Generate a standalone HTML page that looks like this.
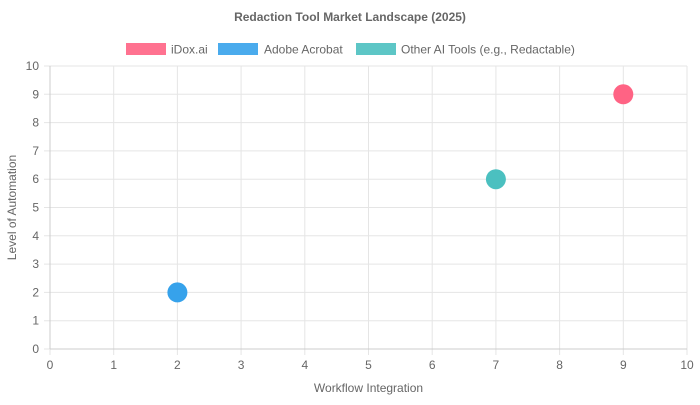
<!DOCTYPE html>
<html><head><style>body{margin:0;background:#fff}</style></head><body>
<svg width="700" height="400" xmlns="http://www.w3.org/2000/svg" font-family="Liberation Sans, Arial, sans-serif">
<text x="350" y="21" text-anchor="middle" font-size="12" font-weight="bold" fill="#666">Redaction Tool Market Landscape (2025)</text>
<rect x="126" y="43" width="40" height="12" fill="#FF6384" fill-opacity="0.9"/>
<text x="171" y="53.5" font-size="12" fill="#666">iDox.ai</text>
<rect x="218" y="43" width="40" height="12" fill="#36A2EB" fill-opacity="0.9"/>
<text x="264" y="53.5" font-size="12" fill="#666">Adobe Acrobat</text>
<rect x="356" y="43" width="40" height="12" fill="#4BC0C0" fill-opacity="0.9"/>
<text x="401" y="53.5" font-size="12" fill="#666">Other AI Tools (e.g., Redactable)</text>
<g stroke="#e5e5e5" stroke-width="1">
<line x1="50" y1="66" x2="50" y2="355"/><line x1="113.7" y1="66" x2="113.7" y2="355"/><line x1="177.4" y1="66" x2="177.4" y2="355"/><line x1="241.1" y1="66" x2="241.1" y2="355"/><line x1="304.8" y1="66" x2="304.8" y2="355"/><line x1="368.5" y1="66" x2="368.5" y2="355"/><line x1="432.2" y1="66" x2="432.2" y2="355"/><line x1="495.9" y1="66" x2="495.9" y2="355"/><line x1="559.6" y1="66" x2="559.6" y2="355"/><line x1="623.3" y1="66" x2="623.3" y2="355"/><line x1="687" y1="66" x2="687" y2="355"/>
<line x1="44" y1="66" x2="687" y2="66"/><line x1="44" y1="94.3" x2="687" y2="94.3"/><line x1="44" y1="122.6" x2="687" y2="122.6"/><line x1="44" y1="150.9" x2="687" y2="150.9"/><line x1="44" y1="179.2" x2="687" y2="179.2"/><line x1="44" y1="207.5" x2="687" y2="207.5"/><line x1="44" y1="235.8" x2="687" y2="235.8"/><line x1="44" y1="264.1" x2="687" y2="264.1"/><line x1="44" y1="292.4" x2="687" y2="292.4"/><line x1="44" y1="320.7" x2="687" y2="320.7"/><line x1="44" y1="349" x2="687" y2="349"/>
</g>
<line x1="50" y1="66" x2="50" y2="349" stroke="#ccc"/><line x1="50" y1="349" x2="687" y2="349" stroke="#ccc"/>
<g font-size="12" fill="#666" text-anchor="end">
<text x="39" y="70">10</text><text x="39" y="98.3">9</text><text x="39" y="126.6">8</text><text x="39" y="154.9">7</text><text x="39" y="183.2">6</text><text x="39" y="211.5">5</text><text x="39" y="239.8">4</text><text x="39" y="268.1">3</text><text x="39" y="296.4">2</text><text x="39" y="324.7">1</text><text x="39" y="353">0</text>
</g>
<g font-size="12" fill="#666" text-anchor="middle">
<text x="50" y="369">0</text><text x="113.7" y="369">1</text><text x="177.4" y="369">2</text><text x="241.1" y="369">3</text><text x="304.8" y="369">4</text><text x="368.5" y="369">5</text><text x="432.2" y="369">6</text><text x="495.9" y="369">7</text><text x="559.6" y="369">8</text><text x="623.3" y="369">9</text><text x="687" y="369">10</text>
<text x="368.5" y="392">Workflow Integration</text>
<text transform="translate(16,207.5) rotate(-90)">Level of Automation</text>
</g>
<circle cx="623.3" cy="94.3" r="10" fill="#FF6384"/>
<circle cx="177.4" cy="292.4" r="10" fill="#36A2EB"/>
<circle cx="495.9" cy="179.2" r="10" fill="#4BC0C0"/>
</svg>
</body></html>
